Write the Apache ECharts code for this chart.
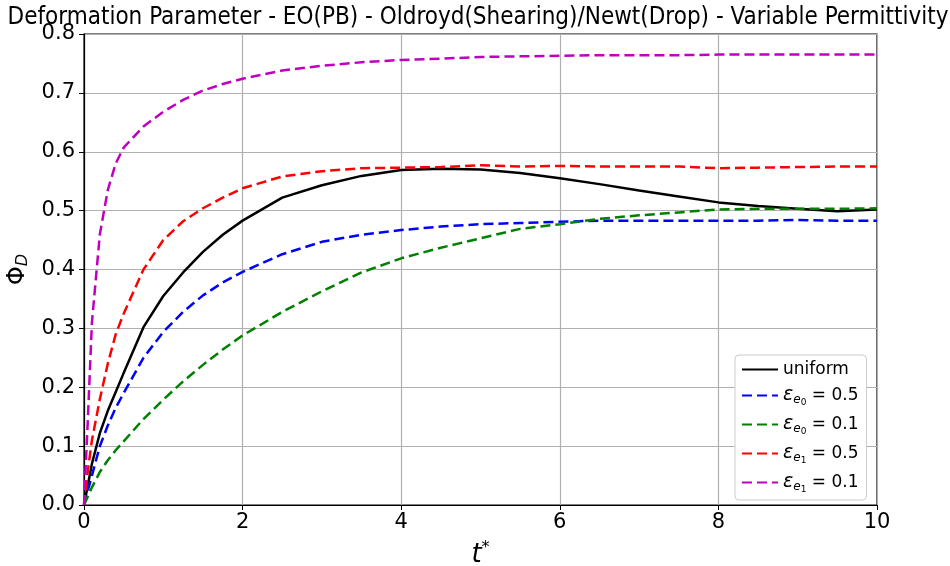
<!DOCTYPE html>
<html>
<head>
<meta charset="utf-8">
<script src="https://cdn.jsdelivr.net/npm/echarts@6/dist/echarts.min.js"></script>
<style>html,body{margin:0;padding:0;background:#fff}#c{width:950px;height:566px}</style>
</head>
<body>
<div id="c"></div>
<script>
const tVals = [0, 0.05, 0.1, 0.2, 0.3, 0.4, 0.5, 0.75, 1.0, 1.25, 1.5, 1.75, 2.0, 2.5, 3.0, 3.5, 4.0, 4.5, 5.0, 5.5, 6.0, 6.5, 7.0, 7.5, 8.0, 8.5, 9.0, 9.5, 10];
const uniform = [0, 0.035, 0.07, 0.122, 0.16, 0.192, 0.224, 0.302, 0.355, 0.395, 0.43, 0.459, 0.483, 0.522, 0.543, 0.559, 0.569, 0.571, 0.570, 0.564, 0.555, 0.545, 0.534, 0.524, 0.514, 0.508, 0.503, 0.499, 0.502];
const e0_05 = [0, 0.025, 0.05, 0.1, 0.135, 0.165, 0.19, 0.25, 0.294, 0.328, 0.356, 0.378, 0.396, 0.426, 0.447, 0.459, 0.467, 0.473, 0.477, 0.479, 0.481, 0.483, 0.483, 0.483, 0.483, 0.483, 0.484, 0.483, 0.483];
const e0_01 = [0, 0.015, 0.03, 0.056, 0.076, 0.093, 0.108, 0.146, 0.179, 0.21, 0.238, 0.264, 0.288, 0.328, 0.363, 0.395, 0.419, 0.437, 0.453, 0.469, 0.477, 0.486, 0.492, 0.497, 0.502, 0.503, 0.503, 0.503, 0.504];
const e1_05 = [0, 0.06, 0.11, 0.18, 0.24, 0.29, 0.325, 0.40, 0.45, 0.482, 0.504, 0.522, 0.538, 0.558, 0.567, 0.572, 0.573, 0.574, 0.577, 0.575, 0.576, 0.575, 0.575, 0.575, 0.572, 0.573, 0.574, 0.575, 0.575];
const e1_01 = [0, 0.15, 0.31, 0.46, 0.535, 0.58, 0.607, 0.643, 0.668, 0.688, 0.704, 0.715, 0.724, 0.738, 0.746, 0.752, 0.756, 0.758, 0.761, 0.762, 0.763, 0.764, 0.764, 0.764, 0.765, 0.765, 0.765, 0.765, 0.765];
const xTicks = [0, 2, 4, 6, 8, 10];
const yTicks = [0, 0.1, 0.2, 0.3, 0.4, 0.5, 0.6, 0.7, 0.8];

const FONT = 'DejaVu Sans';
function pairs(ys){ return tVals.map((t,i)=>[t, ys[i]]); }
const epsRich = {
  eps: {fontFamily: FONT, fontStyle: 'italic', fontSize: 19, color: '#000'},
  sub: {fontFamily: FONT, fontStyle: 'italic', fontSize: 12, color: '#000', padding: [9,0,0,0]},
  subn: {fontFamily: FONT, fontSize: 9, color: '#000', padding: [14,0,0,0]},
  n: {fontFamily: FONT, fontSize: 17, color: '#000'}
};
const labels = {
  'uniform': '{n|uniform}',
  'e0_05': '{eps|ε}{sub|e}{subn|0}{n| = 0.5}',
  'e0_01': '{eps|ε}{sub|e}{subn|0}{n| = 0.1}',
  'e1_05': '{eps|ε}{sub|e}{subn|1}{n| = 0.5}',
  'e1_01': '{eps|ε}{sub|e}{subn|1}{n| = 0.1}'
};
function mk(name, data, color, dashed){
  return {
    name, type: 'line', data: pairs(data), symbol: 'none', smooth: false,
    lineStyle: {color, width: 2.5, type: dashed ? [10, 5] : 'solid'},
    itemStyle: {color}
  };
}
const chart = echarts.init(document.getElementById('c'), null, {renderer: 'canvas'});
chart.setOption({
  animation: false,
  backgroundColor: '#fff',
  title: {
    text: 'Deformation Parameter - EO(PB) - Oldroyd(Shearing)/Newt(Drop) - Variable Permittivity',
    left: 473, top: 1, textAlign: 'center',
    textStyle: {fontFamily: 'DejaVu Sans Condensed, ' + FONT, fontWeight: 'normal', fontSize: 24, color: '#000'}
  },
  grid: {left: 84, right: 73, top: 34, bottom: 61, show: true, borderColor: '#000', borderWidth: 1.2, backgroundColor: 'transparent', outerBoundsMode: 'none', containLabel: false},
  legend: {
    orient: 'vertical', left: 735, top: 355,
    itemWidth: 36, itemHeight: 14, itemGap: 8,
    backgroundColor: '#fff', borderColor: '#ccc', borderWidth: 1, borderRadius: 4,
    padding: [6, 8, 6, 6],
    itemStyle: {opacity: 0},
    data: ['uniform', 'e0_05', 'e0_01', 'e1_05', 'e1_01'],
    formatter: n => labels[n],
    textStyle: {rich: epsRich, fontFamily: FONT, fontSize: 17, color: '#000'}
  },
  xAxis: {
    type: 'value', min: 0, max: 10, interval: 2,
    name: '{t|t}{s|*}', nameLocation: 'middle', nameGap: 35,
    nameTextStyle: {rich: {t: {fontFamily: FONT, fontStyle: 'italic', fontSize: 26, color: '#000'}, s: {fontFamily: FONT, fontSize: 16, color: '#000', padding: [0,0,14,0]}}},
    axisLine: {show: true, lineStyle: {color: '#000', width: 1.2}},
    axisTick: {show: true, inside: false, length: 5, lineStyle: {color: '#000'}},
    axisLabel: {fontFamily: FONT, fontSize: 21, color: '#000', margin: 7, formatter: v => xTicks.includes(v) ? String(v) : ''},
    splitLine: {show: true, lineStyle: {color: '#b0b0b0', width: 1.2}}
  },
  yAxis: {
    type: 'value', min: 0, max: 0.8, interval: 0.1,
    name: '{p|Φ}{d|D}', nameLocation: 'middle', nameGap: 50, nameRotate: 90,
    nameTextStyle: {rich: {p: {fontFamily: FONT, fontSize: 24, color: '#000'}, d: {fontFamily: FONT, fontStyle: 'italic', fontSize: 16, color: '#000', padding: [10,0,0,0]}}},
    axisLine: {show: true, lineStyle: {color: '#000', width: 1.2}},
    axisTick: {show: true, inside: false, length: 5, lineStyle: {color: '#000'}},
    axisLabel: {fontFamily: FONT, fontSize: 21, color: '#000', margin: 9, formatter: v => yTicks.some(y => Math.abs(y - v) < 1e-9) ? v.toFixed(1) : ''},
    splitLine: {show: true, lineStyle: {color: '#b0b0b0', width: 1.2}}
  },
  series: [
    mk('uniform', uniform, '#000000', false),
    mk('e0_05', e0_05, '#0000ff', true),
    mk('e0_01', e0_01, '#008000', true),
    mk('e1_05', e1_05, '#ff0000', true),
    mk('e1_01', e1_01, '#bf00bf', true)
  ]
});
</script>
</body>
</html>
